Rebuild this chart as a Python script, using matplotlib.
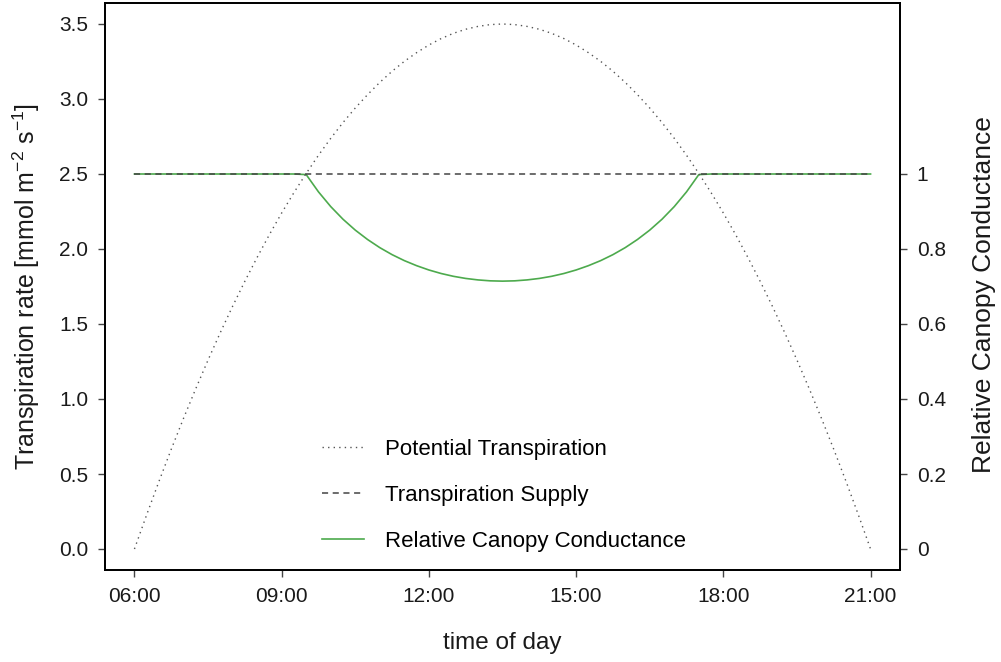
import numpy as np
import matplotlib.pyplot as plt
from matplotlib.ticker import FixedLocator

plt.rcParams['font.family'] = ['Liberation Sans', 'DejaVu Sans']
plt.rcParams['mathtext.fontset'] = 'custom'
plt.rcParams['mathtext.rm'] = 'Liberation Sans'

# time of day in hours, every 15 minutes
hours = np.arange(6, 21.01, 0.25)

# potential transpiration [mmol m-2 s-1]
potential_rise = [0.0, 0.229, 0.451, 0.665, 0.871, 1.069, 1.26, 1.443, 1.618, 1.785,
                  1.944, 2.096, 2.24, 2.376, 2.504, 2.625, 2.738, 2.843, 2.94, 3.029,
                  3.111, 3.185, 3.251, 3.309, 3.36, 3.403, 3.438, 3.465, 3.484, 3.496]
potential = np.array(potential_rise + [3.5] + potential_rise[::-1])

# transpiration supply, constant over the day
supply = np.array([2.5] * len(hours))

# relative canopy conductance = supply / demand, capped at 1
conductance = supply / np.maximum(potential, supply)

tick_hours = [6, 9, 12, 15, 18, 21]
tick_labels = ['06:00', '09:00', '12:00', '15:00', '18:00', '21:00']

fig = plt.figure(figsize=(10.01, 6.62), dpi=100)
ax = fig.add_axes([105 / 1001, 92 / 662, 795 / 1001, 567 / 662])
ax2 = ax.twinx()

l3, = ax2.plot(hours, conductance, color='#4daa4d', lw=1.2,
               label='Relative Canopy Conductance')
l1, = ax.plot(hours, potential, color='#555555', lw=1.0, linestyle=(0, (1, 3)),
              label='Potential Transpiration')
l2, = ax.plot(hours, supply, color='#444444', lw=1.1, linestyle=(0, (4, 3)),
              label='Transpiration Supply')

# left axis on top so the dashed supply shows over the green line
ax.set_zorder(ax2.get_zorder() + 1)
ax.patch.set_visible(False)

ax.set_xlim(5.4, 21.6)
ax.set_ylim(-0.14, 3.64)
ax2.set_ylim(-0.14 / 2.5, 3.64 / 2.5)

ax.xaxis.set_major_locator(FixedLocator(tick_hours))
ax.set_xticklabels(tick_labels)
ax.set_yticks(np.arange(0, 3.51, 0.5))
ax.set_yticklabels(['%.1f' % v for v in np.arange(0, 3.51, 0.5)])
ax2.set_yticks([0, 0.2, 0.4, 0.6, 0.8, 1.0])
ax2.set_yticklabels(['0', '0.2', '0.4', '0.6', '0.8', '1'])

for a in (ax, ax2):
    a.tick_params(direction='out', length=5, width=1, color='#444444',
                  labelsize=15, labelcolor='#1a1a1a', pad=7)
    for s in a.spines.values():
        s.set_linewidth(1.3)
        s.set_color('black')

ax.set_xlabel('time of day', fontsize=17.5, labelpad=19, color='#1a1a1a')
ax.set_ylabel(r'Transpiration rate [mmol m$^{-2}$ s$^{-1}$]', fontsize=18,
              labelpad=12, color='#1a1a1a')
ax2.set_ylabel('Relative Canopy Conductance', fontsize=19, color='#1a1a1a')
ax2.yaxis.set_label_coords(1.091, 0.485)

ax.legend(handles=[l1, l2, l3], loc='upper left', frameon=False, fontsize=16,
          handlelength=1.9, handletextpad=0.95, labelspacing=1.13, borderpad=0,
          borderaxespad=0, bbox_to_anchor=(322 / 1001, (662 - 439) / 662),
          bbox_transform=fig.transFigure)

fig.savefig('out.png', dpi=100)
